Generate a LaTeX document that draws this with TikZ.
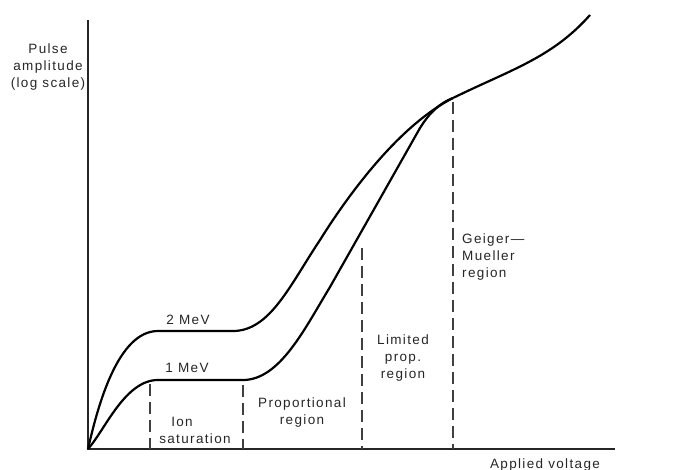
\documentclass[tikz,border=0pt]{standalone}
\usepackage{fontspec}
\setmainfont{Liberation Sans}[LetterSpace=10]
\begin{document}
\begin{tikzpicture}[x=1pt,y=-1pt,
  axis/.style={line width=1.8pt,black!85},
  curve/.style={line width=2.2pt,black},
  divider/.style={line width=1.1pt,black!75,dash pattern=on 12pt off 6pt},
  lbl/.style={inner sep=0pt,text=black!85,font=\fontsize{13.5}{17}\selectfont}]
\useasboundingbox (0,0) rectangle (685,470);
% axes
\coordinate (O) at (88,449);
\coordinate (Ytop) at (88,20);
\coordinate (Xend) at (615,449);
\draw[axis] (Ytop) -- (O) -- (Xend);
% key points
\coordinate (A2) at (158,331);
\coordinate (B2) at (233,331);
\coordinate (M2) at (320,240);
\coordinate (A1) at (158,380);
\coordinate (B1) at (243,380);
\coordinate (M1) at (330,287);
\coordinate (N1) at (420,128);
\coordinate (J) at (453,98);
\coordinate (E) at (590,15);
% 2 MeV curve
\draw[curve] (O) .. controls (98,405) and (118,331) .. (A2) -- (B2)
  .. controls (270,331) and (290,285) .. (M2)
  .. controls (350,192) and (400,125) .. (J);
% 1 MeV curve
\draw[curve] (O) .. controls (105,430) and (125,380) .. (A1) -- (B1)
  .. controls (280,380) and (305,328) .. (M1) -- (N1)
  .. controls (430,112) and (440,103) .. (J);
% Geiger-Mueller continuation
\draw[curve] (J) .. controls (510,70) and (552,58) .. (E);
% region dividers
\coordinate (D1) at (150,384);
\coordinate (D1b) at (150,449);
\coordinate (D2) at (243,385);
\coordinate (D2b) at (243,449);
\coordinate (D3) at (362,248);
\coordinate (D3b) at (362,449);
\coordinate (D4) at (453,102);
\coordinate (D4b) at (453,449);
\draw[divider] (D1) -- (D1b);
\draw[divider] (D2) -- (D2b);
\draw[divider] (D3) -- (D3b);
\draw[divider] (D4) -- (D4b);
% labels
\node[lbl,align=center] (ylab) at (48,67) {Pulse\\amplitude\\(log scale)};
\node[lbl] (mev2) at (188,320) {2 MeV};
\node[lbl] (mev1) at (187,368) {1 MeV};
\node[lbl] (ion) at (182,422) {Ion};
\node[lbl] (sat) at (195,439) {saturation};
\node[lbl,align=center] (prop) at (302,413) {Proportional\\region};
\node[lbl,align=center] (lim) at (403,358) {Limited\\prop.\\region};
\node[lbl,align=left,anchor=west] (gm) at (462,257) {Geiger—\\Mueller\\region};
\node[lbl] (xlab) at (545,465) {Applied voltage};
\end{tikzpicture}
\end{document}
